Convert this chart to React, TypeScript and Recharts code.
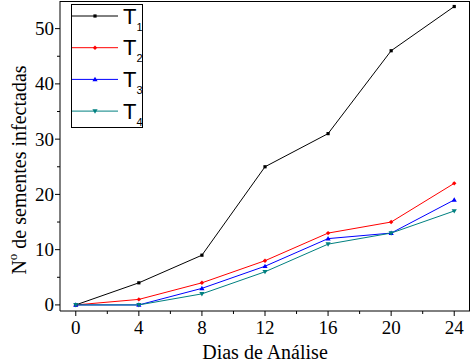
import React from 'react';
import { LineChart, Line, XAxis, YAxis, Customized } from 'recharts';

const days = [0, 4, 8, 12, 16, 20, 24];
const t1 = [0, 4, 9, 25, 31, 46, 54];
const t2 = [0, 1, 4, 8, 13, 15, 22];
const t3 = [0, 0, 3, 7, 12, 13, 19];
const t4 = [0, 0, 2, 6, 11, 13, 17];
const xTicks = [0, 2, 4, 6, 8, 10, 12, 14, 16, 18, 20, 22, 24];
const xMajor = [0, 4, 8, 12, 16, 20, 24];
const yTicks = [0, 5, 10, 15, 20, 25, 30, 35, 40, 45, 50];
const yMajor = [0, 10, 20, 30, 40, 50];

const data = days.map((d, i) => ({ d, t1: t1[i], t2: t2[i], t3: t3[i], t4: t4[i] }));

const serif = '"Liberation Serif", "Times New Roman", serif';
const sans = '"Liberation Sans", Arial, sans-serif';

const XTick = (props: any) => {
  const { x, payload } = props;
  const major = xMajor.includes(payload.value);
  return (
    <g>
      <line x1={x} x2={x} y1={311} y2={311 + (major ? 5 : 3)} stroke="#000" strokeWidth={1} />
      {major && (
        <text x={x} y={334} textAnchor="middle" fontFamily={serif} fontSize={19} fill="#000">
          {payload.value}
        </text>
      )}
    </g>
  );
};

const YTick = (props: any) => {
  const { y, payload } = props;
  const major = yMajor.includes(payload.value);
  return (
    <g>
      <line x1={60 - (major ? 5 : 3)} x2={60} y1={y} y2={y} stroke="#000" strokeWidth={1} />
      {major && (
        <text x={54} y={y + 6.5} textAnchor="end" fontFamily={serif} fontSize={19} fill="#000">
          {payload.value}
        </text>
      )}
    </g>
  );
};

const Square = (props: any) => {
  const { cx, cy, fill } = props;
  return <rect x={cx - 1.6} y={cy - 1.6} width={3.2} height={3.2} fill={fill} />;
};
const Diamond = (props: any) => {
  const { cx, cy, fill } = props;
  return <path d={`M${cx},${cy - 2.2}L${cx + 2.2},${cy}L${cx},${cy + 2.2}L${cx - 2.2},${cy}Z`} fill={fill} />;
};
const TriUp = (props: any) => {
  const { cx, cy, fill } = props;
  return <path d={`M${cx},${cy - 2.6}L${cx + 2.6},${cy + 1.8}L${cx - 2.6},${cy + 1.8}Z`} fill={fill} />;
};
const TriDown = (props: any) => {
  const { cx, cy, fill } = props;
  return <path d={`M${cx},${cy + 2.6}L${cx + 2.6},${cy - 1.8}L${cx - 2.6},${cy - 1.8}Z`} fill={fill} />;
};

const series = [
  { key: 't1', color: '#000000', Shape: Square, label: '1' },
  { key: 't2', color: '#ff0000', Shape: Diamond, label: '2' },
  { key: 't3', color: '#0000ff', Shape: TriUp, label: '3' },
  { key: 't4', color: '#008080', Shape: TriDown, label: '4' },
];

const Decor = () => (
  <g>
    <line x1={60} x2={470} y1={1.5} y2={1.5} stroke="#000" strokeWidth={1} />
    <line x1={469.5} x2={469.5} y1={1} y2={311} stroke="#000" strokeWidth={1} />
    <rect x={71.5} y={4.5} width={71} height={123} fill="#fff" stroke="#000" strokeWidth={1} />
    {series.map((s, i) => {
      const ly = 16 + i * 31.7;
      const S = s.Shape;
      return (
        <g key={s.key}>
          <line x1={72} x2={118} y1={ly} y2={ly} stroke={s.color} strokeWidth={1} />
          <S cx={95} cy={ly} fill={s.color} />
          <text x={123} y={ly + 7.5} fontFamily={sans} fontSize={22} fill="#000">
            T
            <tspan fontSize={11} dy={7}>{s.label}</tspan>
          </text>
        </g>
      );
    })}
    <text
      x={0}
      y={0}
      transform="translate(26,170) rotate(-90)"
      textAnchor="middle"
      fontFamily={serif}
      fontSize={20}
      fill="#000"
    >
      N
      <tspan fontSize={13} dy={-9}>o</tspan>
      <tspan dy={9}> de sementes infectadas</tspan>
    </text>
    <text x={265} y={359} textAnchor="middle" fontFamily={serif} fontSize={20} fill="#000">
      Dias de Análise
    </text>
  </g>
);

export default function App() {
  return (
    <div style={{ position: 'absolute', left: 0, top: 0, background: '#fff' }}>
      <LineChart width={472} height={364} data={data} margin={{ top: 1, right: 2, bottom: 0, left: 0 }}>
        <XAxis
          dataKey="d"
          type="number"
          domain={[-1, 25]}
          ticks={xTicks}
          tick={<XTick />}
          tickLine={false}
          height={53}
          stroke="#000"
          interval={0}
        />
        <YAxis
          type="number"
          domain={[-1.1, 55]}
          ticks={yTicks}
          tick={<YTick />}
          tickLine={false}
          width={60}
          stroke="#000"
          interval={0}
        />
        {series.map((s) => (
          <Line
            key={s.key}
            dataKey={s.key}
            stroke={s.color}
            strokeWidth={1}
            isAnimationActive={false}
            dot={(p: any) => <s.Shape key={`${s.key}-${p.index}`} cx={p.cx} cy={p.cy} fill={s.color} />}
            activeDot={false}
          />
        ))}
        <Customized component={Decor} />
      </LineChart>
    </div>
  );
}
